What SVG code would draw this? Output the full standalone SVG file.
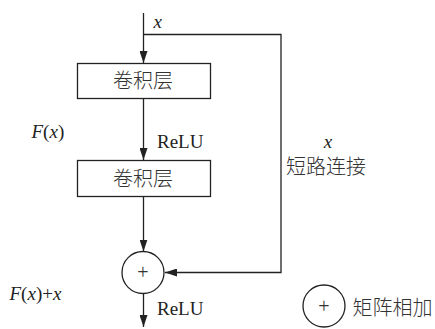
<svg xmlns="http://www.w3.org/2000/svg" width="435" height="329" viewBox="0 0 435 329">
  <style>
    .line { fill: none; stroke: #222; stroke-width: 1.3; }
    .box { fill: #fff; stroke: #222; stroke-width: 1.3; }
    .op { fill: #fff; stroke: #222; stroke-width: 1.3; }
    .cjk { font-family: "Noto Sans CJK SC", sans-serif; font-size: 20px; font-weight: 300; fill: #333; }
    .math { font-family: "Liberation Serif", serif; font-size: 19px; fill: #222; }
    .it { font-style: italic; }
    .plus { font-family: "Liberation Serif", serif; font-size: 20px; fill: #333; text-anchor: middle; }
  </style>
  <defs>
    <marker id="arrow" viewBox="0 0 12 8" refX="12" refY="4" markerWidth="12" markerHeight="8" markerUnits="userSpaceOnUse" orient="auto">
      <path d="M0,0 L12,4 L0,8 Z" fill="#222"/>
    </marker>
  </defs>

  <!-- connectors -->
  <g id="connectors">
    <line class="line" x1="143.5" y1="13" x2="143.5" y2="63" marker-end="url(#arrow)"/>
    <polyline class="line" points="143.5,34.5 281,34.5 281,272.5 165,272.5" marker-end="url(#arrow)"/>
    <line class="line" x1="143.5" y1="98.5" x2="143.5" y2="160" marker-end="url(#arrow)"/>
    <line class="line" x1="143.5" y1="196.5" x2="143.5" y2="251.5" marker-end="url(#arrow)"/>
    <line class="line" x1="143.5" y1="293.5" x2="143.5" y2="327" marker-end="url(#arrow)"/>
  </g>

  <!-- conv layer 1 -->
  <g id="conv1">
    <rect class="box" x="77.5" y="63.5" width="133" height="35"/>
    <text class="cjk" x="143" y="88" text-anchor="middle">卷积层</text>
  </g>

  <!-- conv layer 2 -->
  <g id="conv2">
    <rect class="box" x="77.5" y="160.5" width="133" height="36"/>
    <text class="cjk" x="143" y="186" text-anchor="middle">卷积层</text>
  </g>

  <!-- addition node -->
  <g id="add">
    <circle class="op" cx="143" cy="272.5" r="21"/>
    <text class="plus" x="143" y="279">+</text>
  </g>

  <!-- legend -->
  <g id="legend">
    <circle class="op" cx="324" cy="306" r="21"/>
    <text class="plus" x="324" y="312.5">+</text>
    <text class="cjk" x="352.5" y="315">矩阵相加</text>
  </g>

  <!-- labels -->
  <g id="labels">
    <text class="math it" x="153.5" y="28">x</text>
    <text class="math" x="31.5" y="138"><tspan class="it">F</tspan>(<tspan class="it">x</tspan>)</text>
    <text class="math" x="157" y="148">ReLU</text>
    <text class="math it" x="328" y="148" font-size="16" text-anchor="middle">x</text>
    <text class="cjk" x="286" y="173.5">短路连接</text>
    <text class="math" x="9.5" y="300"><tspan class="it">F</tspan>(<tspan class="it">x</tspan>)+<tspan class="it">x</tspan></text>
    <text class="math" x="157" y="315">ReLU</text>
  </g>
</svg>
